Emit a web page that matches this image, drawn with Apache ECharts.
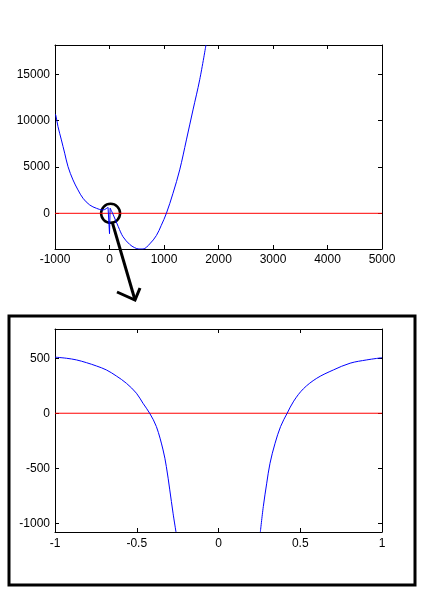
<!DOCTYPE html>
<html>
<head>
<meta charset="utf-8">
<script src="https://cdn.jsdelivr.net/npm/echarts@6/dist/echarts.min.js"></script>
<style>
  html, body { margin: 0; padding: 0; background: #fff; }
  #chart { width: 422px; height: 598px; }
</style>
</head>
<body>
<div id="chart"></div>
<script>
  // top plot: left branch, the spike at 0, right branch
  const topLeft = [
    [-1000, 10700], [-987, 10620], [-945, 9350], [-883, 7915], [-822, 6480],
    [-761, 5030], [-670, 3600], [-578, 2520], [-486, 1620], [-363, 900],
    [-240, 540], [-119, 356], [-27, 650]
  ];
  const topSpike = [[-27, 650], [0, -2200], [12, 560]];
  const topRight = [
    [12, 560], [70, -180], [162, -1450], [248, -2530], [370, -3350], [462, -3710],
    [540, -3850], [615, -3850], [738, -3300], [860, -2400], [950, -1300],
    [1044, 0], [1165, 2160], [1288, 4680], [1411, 7915], [1532, 11150],
    [1655, 14400], [1770, 18150]
  ];
  const topZero = [[-1000, 0], [5000, 0]];
  const topYTicks = [0, 5000, 10000, 15000];

  // bottom plot: zoom on -1..1
  const bottomLeft = [
    [-1, 510], [-0.93, 500], [-0.869, 485], [-0.808, 460], [-0.747, 430],
    [-0.686, 394], [-0.625, 339], [-0.563, 272], [-0.502, 182], [-0.462, 91],
    [-0.421, 0], [-0.38, -121], [-0.339, -334], [-0.319, -485], [-0.298, -697],
    [-0.278, -909], [-0.26, -1080]
  ];
  const bottomRight = [
    [0.256, -1080], [0.274, -849], [0.295, -636], [0.315, -455], [0.346, -273],
    [0.38, -120], [0.42, 0], [0.46, 110], [0.519, 222], [0.601, 318],
    [0.703, 394], [0.805, 455], [0.907, 485], [1, 505]
  ];
  const bottomZero = [[-1, 0], [1, 0]];
  const bottomYTicks = [-1000, -500, 0, 500];

  // point the circle marks on the top plot
  const circleAt = [20, 0];

  const font = { fontFamily: "Liberation Sans", fontSize: 12, color: "#000", formatter: (v) => String(v) };
  const line = { show: true, onZero: false, lineStyle: { color: "#000", width: 1 } };
  const tick = { show: true, inside: true, length: 4, lineStyle: { color: "#000" } };
  const blue = { color: "#0000ff", width: 1 };
  const red = { color: "#ff0000", width: 1 };

  const chart = echarts.init(document.getElementById("chart"));

  chart.setOption({
    animation: false,
    grid: [
      { left: 55, top: 45, width: 327, height: 204 },
      { left: 55, top: 329, width: 327, height: 203 },
    ],
    xAxis: [
      { type: "value", gridIndex: 0, min: -1000, max: 5000, interval: 1000, position: "bottom",
        axisLine: line, axisTick: tick, splitLine: { show: false },
        axisLabel: { ...font, margin: 5 } },
      { type: "value", gridIndex: 0, min: -1000, max: 5000, interval: 1000, position: "top",
        axisLine: line, axisTick: tick, splitLine: { show: false }, axisLabel: { show: false } },
      { type: "value", gridIndex: 1, min: -1, max: 1, interval: 0.5, position: "bottom",
        axisLine: line, axisTick: tick, splitLine: { show: false },
        axisLabel: { ...font, margin: 6 } },
      { type: "value", gridIndex: 1, min: -1, max: 1, interval: 0.5, position: "top",
        axisLine: line, axisTick: tick, splitLine: { show: false }, axisLabel: { show: false } },
    ],
    yAxis: [
      { type: "value", gridIndex: 0, min: -3850, max: 18150, position: "left",
        axisLine: line, axisTick: { ...tick, customValues: topYTicks }, splitLine: { show: false },
        axisLabel: { ...font, margin: 5, customValues: topYTicks } },
      { type: "value", gridIndex: 0, min: -3850, max: 18150, position: "right",
        axisLine: line, axisTick: { ...tick, customValues: topYTicks }, splitLine: { show: false },
        axisLabel: { show: false } },
      { type: "value", gridIndex: 1, min: -1080, max: 766, position: "left",
        axisLine: line, axisTick: { ...tick, customValues: bottomYTicks }, splitLine: { show: false },
        axisLabel: { ...font, margin: 5, customValues: bottomYTicks } },
      { type: "value", gridIndex: 1, min: -1080, max: 766, position: "right",
        axisLine: line, axisTick: { ...tick, customValues: bottomYTicks }, splitLine: { show: false },
        axisLabel: { show: false } },
    ],
    series: [
      { type: "line", xAxisIndex: 0, yAxisIndex: 0, data: topZero, symbol: "none", lineStyle: red },
      { type: "line", xAxisIndex: 0, yAxisIndex: 0, data: topLeft, symbol: "none", smooth: 0.35, lineStyle: blue },
      { type: "line", xAxisIndex: 0, yAxisIndex: 0, data: topSpike, symbol: "none", lineStyle: blue },
      { type: "line", xAxisIndex: 0, yAxisIndex: 0, data: topRight, symbol: "none", smooth: 0.35, lineStyle: blue },
      { type: "line", xAxisIndex: 2, yAxisIndex: 2, data: bottomZero, symbol: "none", lineStyle: red },
      { type: "line", xAxisIndex: 2, yAxisIndex: 2, data: bottomLeft, symbol: "none", smooth: 0.35, lineStyle: blue },
      { type: "line", xAxisIndex: 2, yAxisIndex: 2, data: bottomRight, symbol: "none", smooth: 0.35, lineStyle: blue },
    ],
  });

  // circle, arrow and frame round the zoomed plot
  const c = chart.convertToPixel({ xAxisIndex: 0, yAxisIndex: 0 }, circleAt);
  const tip = [135, 300];
  chart.setOption({
    graphic: [
      { type: "circle", shape: { cx: c[0], cy: c[1], r: 9.5 },
        style: { fill: "none", stroke: "#000", lineWidth: 2.5 } },
      { type: "line", shape: { x1: c[0] + 2, y1: c[1] + 10, x2: tip[0], y2: tip[1] },
        style: { stroke: "#000", lineWidth: 3 } },
      { type: "polyline", shape: { points: [[117, 292], tip, [140, 288]] },
        style: { fill: "none", stroke: "#000", lineWidth: 3 } },
      { type: "rect", shape: { x: 9, y: 316, width: 406, height: 269 },
        style: { fill: "none", stroke: "#000", lineWidth: 3 } },
    ],
  });
</script>
</body>
</html>
